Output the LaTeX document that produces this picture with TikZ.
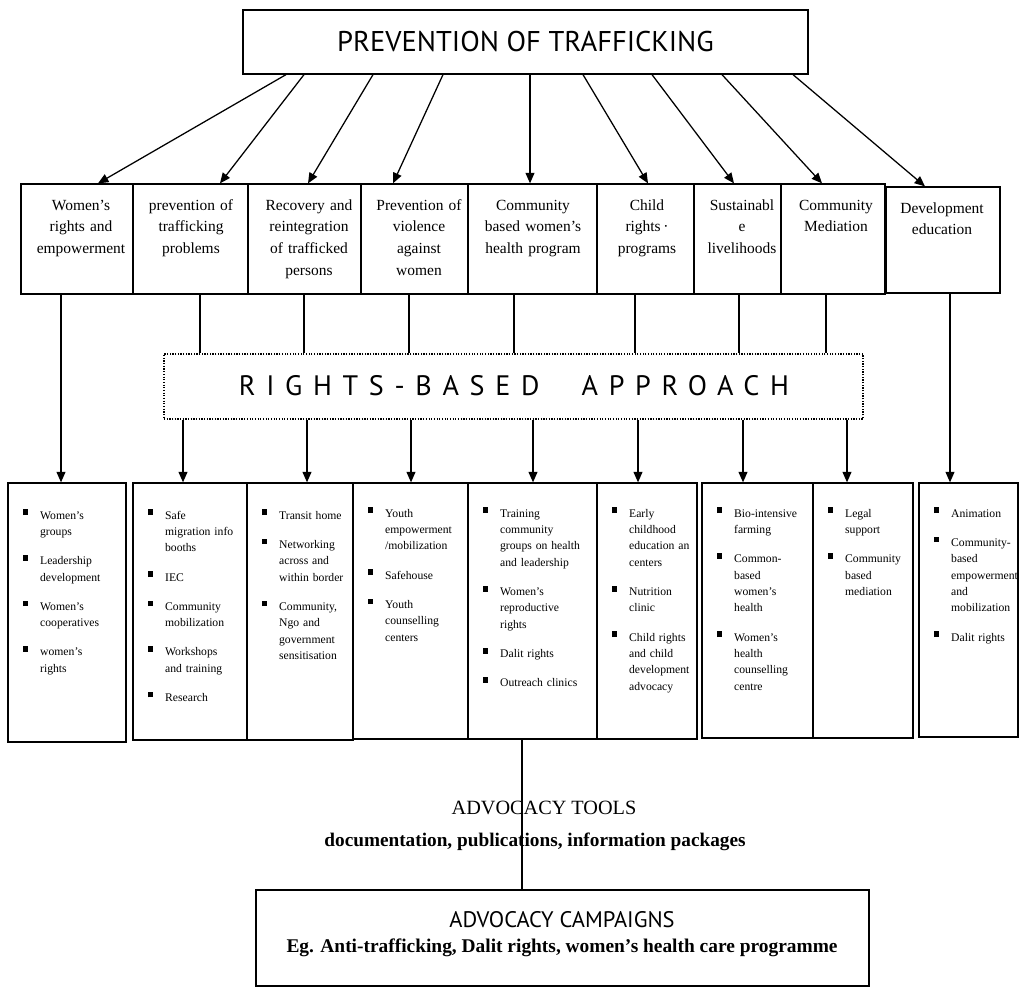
\documentclass[tikz,border=0pt]{standalone}
\usepackage{fontspec}
\setmainfont{Liberation Serif}
\newfontfamily\handfont{PT Sans}
\usetikzlibrary{arrows.meta,fit}

\tikzset{
  box/.style={draw, inner sep=0pt, line width=0.9pt},
  link/.style={line width=0.9pt},
  arr/.style={link, -{Triangle[length=2.6mm,width=2.2mm]}},
  progtxt/.style={anchor=base, inner sep=0pt, text width=2.8cm, align=center,
    font=\fontsize{11}{15.6}\selectfont},
  itemtxt/.style={anchor=base west, inner sep=0pt, text width=2.6cm, align=left,
    font=\fontsize{8.3}{11.7}\selectfont},
}
\newcommand\bulmark{\hangindent=12pt\hangafter=1\noindent
  \makebox[12pt][l]{\raisebox{2.8pt}{\rule{3.3pt}{4pt}}}}
\newcommand\bul{\par\vspace{9pt}\bulmark}
\let\nl\newline

\begin{document}
\begin{tikzpicture}[x=0.025cm, y=-0.025cm]
  \useasboundingbox (0,0) rectangle (1025,993);

  % top box
  \node[box, fit={(243,10) (808,74)}] (top) {};
  \node[font=\handfont\fontsize{20.3}{24}\selectfont] (title) at (top.center) {PREVENTION OF TRAFFICKING};

  % programme row
  \foreach \n/\xa/\xb in {1/21/133, 2/133/248, 3/248/361, 4/361/468, 5/468/597,
                          6/597/694, 7/694/781, 8/781/885}
    \node[box, fit={(\xa,184) (\xb,294)}] (p\n) {};
  \node[box, fit={(886,187) (1000,293)}] (p9) {};

  \node[progtxt] (l1) at (81,210) {Women's\\rights and\\empowerment};
  \node[progtxt] (l2) at (191,210) {prevention of\\trafficking\\problems};
  \node[progtxt] (l3) at (309,210) {Recovery and\\reintegration\\of trafficked\\persons};
  \node[progtxt] (l4) at (419,210) {Prevention of\\violence\\against\\women};
  \node[progtxt] (l5) at (533,210) {Community\\based women's\\health program};
  \node[progtxt] (l6) at (647,210) {Child\\rights\,·\\programs};
  \node[progtxt] (l7) at (742,210) {Sustainabl\\e\\livelihoods};
  \node[progtxt] (l8) at (836,210) {Community\\Mediation};
  \node[progtxt] (l9) at (942,213) {Development\\education};

  \foreach \n/\a/\b in {1/286/98, 2/304/220, 3/373/308, 4/443/393, 5/530/530,
                        6/583/648, 7/652/734, 8/722/822, 9/793/925}
    \draw[arr] (top.south -| \a,0) -- (p\n.north -| \b,0);

  % rights-based approach
  \node[box, densely dotted, fit={(164,354) (863,419)}] (rba) {};
  \node[font={\handfont\fontsize{20}{24}\selectfont\addfontfeature{LetterSpace=38}}]
    (rbatxt) at (514,386) {RIGHTS-BASED\hspace{30pt}APPROACH};

  \foreach \n/\a in {2/200, 3/304, 4/409, 5/514, 6/635, 7/739, 8/826}
    \draw[link] (p\n.south -| \a,0) -- (rba.north -| \a,0);

  % activity boxes
  \foreach \n/\xa/\xb/\yb in {1/8/126/742, 2/133/247/740, 3/247/353/740, 4/353/468/739,
                              5/468/597/739, 6/597/697/739, 7/702/813/738, 8/813/913/738,
                              9/919/1018/737}
    \node[box, fit={(\xa,483) (\xb,\yb)}] (b\n) {};

  \foreach \n/\a in {2/183, 3/307, 4/411, 5/533, 6/638, 7/743, 8/847}
    \draw[arr] (rba.south -| \a,0) -- (b\n.north -| \a,0);
  \draw[arr] (p1.south -| 61,0) -- (b1.north -| 61,0);
  \draw[arr] (p9.south -| 950,0) -- (b9.north -| 950,0);

  \node[itemtxt] (i1) at (23,519) {\bulmark Women's\nl groups \bul Leadership\nl development
    \bul Women's\nl cooperatives \bul women's\nl rights\par};
  \node[itemtxt] (i2) at (148,519) {\bulmark Safe\nl migration info\nl booths \bul IEC
    \bul Community\nl mobilization \bul Workshops\nl and training \bul Research\par};
  \node[itemtxt] (i3) at (262,519) {\bulmark Transit home \bul Networking\nl across and\nl within border
    \bul Community,\nl Ngo and\nl government\nl sensitisation\par};
  \node[itemtxt] (i4) at (368,517) {\bulmark Youth\nl empowerment\nl /mobilization \bul Safehouse
    \bul Youth\nl counselling\nl centers\par};
  \node[itemtxt] (i5) at (483,517) {\bulmark Training\nl community\nl groups on health\nl and leadership
    \bul Women's\nl reproductive\nl rights \bul Dalit rights \bul Outreach clinics\par};
  \node[itemtxt] (i6) at (612,517) {\bulmark Early\nl childhood\nl education an\nl centers
    \bul Nutrition\nl clinic \bul Child rights\nl and child\nl development\nl advocacy\par};
  \node[itemtxt] (i7) at (717,517) {\bulmark Bio-intensive\nl farming \bul Common-\nl based\nl women's\nl health
    \bul Women's\nl health\nl counselling\nl centre\par};
  \node[itemtxt] (i8) at (828,517) {\bulmark Legal\nl support \bul Community\nl based\nl mediation\par};
  \node[itemtxt] (i9) at (934,517) {\bulmark Animation \bul Community-\nl based\nl empowerment\nl and\nl mobilization
    \bul Dalit rights\par};

  % advocacy
  \node[box, fit={(256,890) (869,986)}] (camp) {};
  \draw[link] (b5.south -| 522,0) -- (camp.north -| 522,0);
  \node[font=\fontsize{14.4}{17}\selectfont] (tools) at (544,808) {ADVOCACY TOOLS};
  \node[font=\bfseries\fontsize{13.7}{16}\selectfont] (toolsub) at (535,842)
    {documentation, publications, information packages};
  \node[font=\handfont\fontsize{16}{19}\selectfont] (camptitle) at (562,920) {ADVOCACY CAMPAIGNS};
  \node[font=\bfseries\fontsize{13.8}{16}\selectfont] (campsub) at (562,948)
    {Eg. Anti-trafficking, Dalit rights, women's health care programme};
\end{tikzpicture}
\end{document}
